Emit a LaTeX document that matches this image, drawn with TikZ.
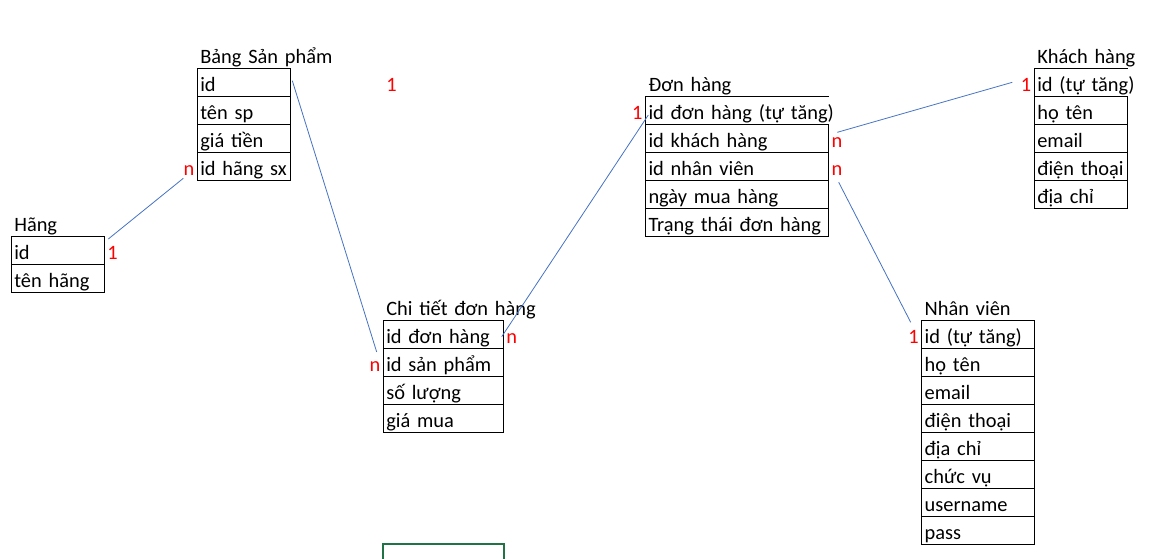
\documentclass[tikz,border=0pt]{standalone}
\usepackage{fontspec}
\setmainfont{Carlito}
\usepackage{xcolor}
\usepackage{tikz}
\usetikzlibrary{positioning}
\definecolor{linkblue}{HTML}{4472C4}
\definecolor{selgreen}{HTML}{217346}

\begin{document}
\begin{tikzpicture}[x=1pt, y=-1pt,
  font=\fontsize{20.4}{24}\selectfont,
  field/.style={draw, line width=0.8pt, outer sep=0pt, inner xsep=3pt, inner ysep=0pt,
    text height=23pt, text depth=5pt, text width=#1, align=left, anchor=north west,
    execute at begin node=\hbox\bgroup, execute at end node=\egroup},
  openfield/.style={field=200pt, draw=none},
  tabtitle/.style={field=200pt, draw=none, anchor=south west},
  mult/.style={text=red, outer sep=0pt, inner xsep=3pt, inner ysep=0pt,
    text height=23pt, text depth=5pt},
  link/.style={draw=linkblue, line width=0.8pt}]
\useasboundingbox (0,0) rectangle (1170,558);

% Hang
\node[field=87pt] (ha1) at (11.3,236.3) {id};
\node[field=87pt, below=0pt of ha1] (ha2) {tên hãng};
\node[tabtitle] (hat) at (ha1.north west) {Hãng};

% Bang san pham
\node[field=87.4pt] (sp1) at (197.3,68.3) {id};
\node[field=87.4pt, below=0pt of sp1] (sp2) {tên sp};
\node[field=87.4pt, below=0pt of sp2] (sp3) {giá tiền};
\node[field=87.4pt, below=0pt of sp3] (sp4) {id hãng sx};
\node[tabtitle] (spt) at (sp1.north west) {Bảng Sản phẩm};

% Chi tiet don hang
\node[field=114pt] (ct1) at (383.3,320.3) {id đơn hàng};
\node[field=114pt, below=0pt of ct1] (ct2) {id sản phẩm};
\node[field=114pt, below=0pt of ct2] (ct3) {số lượng};
\node[field=114pt, below=0pt of ct3] (ct4) {giá mua};
\node[tabtitle] (ctt) at (ct1.north west) {Chi tiết đơn hàng};

% Don hang
\node[openfield] (dh1) at (645.5,96.5) {id đơn hàng (tự tăng)};
\node[field=177.2pt] (dh2) at (dh1.south west) {id khách hàng};
\node[field=177.2pt, below=0pt of dh2] (dh3) {id nhân viên};
\node[field=177.2pt, below=0pt of dh3] (dh4) {ngày mua hàng};
\node[field=177.2pt, below=0pt of dh4] (dh5) {Trạng thái đơn hàng};
\node[tabtitle] (dht) at (dh1.north west) {Đơn hàng};
\draw[line width=0.8pt] (dh1.south west) -- (dh1.north west) -- (dh1.north west -| dh2.east);

% Khach hang
\node[openfield] (kh1) at (1034.3,68.3) {id (tự tăng)};
\node[field=87.4pt] (kh2) at (kh1.south west) {họ tên};
\node[field=87.4pt, below=0pt of kh2] (kh3) {email};
\node[field=87.4pt, below=0pt of kh3] (kh4) {điện thoại};
\node[field=87.4pt, below=0pt of kh4] (kh5) {địa chỉ};
\node[tabtitle] (kht) at (kh1.north west) {Khách hàng};
\draw[line width=0.8pt] (kh1.south west) -- (kh1.north west) -- (kh1.north west -| kh2.east);

% Nhan vien
\node[field=106.6pt] (nv1) at (921.7,320.5) {id (tự tăng)};
\node[field=106.6pt, below=0pt of nv1] (nv2) {họ tên};
\node[field=106.6pt, below=0pt of nv2] (nv3) {email};
\node[field=106.6pt, below=0pt of nv3] (nv4) {điện thoại};
\node[field=106.6pt, below=0pt of nv4] (nv5) {địa chỉ};
\node[field=106.6pt, below=0pt of nv5] (nv6) {chức vụ};
\node[field=106.6pt, below=0pt of nv6] (nv7) {username};
\node[field=106.6pt, below=0pt of nv7] (nv8) {pass};
\node[tabtitle] (nvt) at (nv1.north west) {Nhân viên};

% multiplicities
\node[mult, right=0pt of ha1] (ha1m) {1};
\node[mult, left=0pt of sp4] (sp4m) {n};
\node[mult, anchor=west] (ct0m) at (ct1.west |- sp1.west) {1};
\node[mult, right=0pt of ct1] (ct1m) {n};
\node[mult, left=0pt of ct2] (ct2m) {n};
\node[mult, anchor=east] (dh1m) at (dh1.west) {1};
\node[mult, right=0pt of dh2] (dh2m) {n};
\node[mult, right=0pt of dh3] (dh3m) {n};
\node[mult, anchor=east] (kh1m) at (kh1.west) {1};
\node[mult, left=0pt of nv1] (nv1m) {1};

% relations
\draw[link] ([shift={(4,2.7)}]ha1.north east) -- ([shift={(-14,-2)}]sp4.south west);
\draw[link] ([shift={(1.6,12.4)}]sp1.north east) -- ([shift={(-6.6,3.7)}]ct2.north west);
\draw[link] ([shift={(-1.6,2.4)}]ct1.east) -- ([shift={(2.8,4.5)}]dh1.west);
\draw[link] ([shift={(8.6,7.8)}]dh2.north east) -- ([shift={(-22,0)}]kh1.west);
\draw[link] ([shift={(10,1.8)}]dh3.south east) -- ([shift={(-11,1.8)}]nv1.north west);

% selected cell
\draw[selgreen, line width=2pt] (383.3,544.3) rectangle (503.8,562);
\end{tikzpicture}
\end{document}
